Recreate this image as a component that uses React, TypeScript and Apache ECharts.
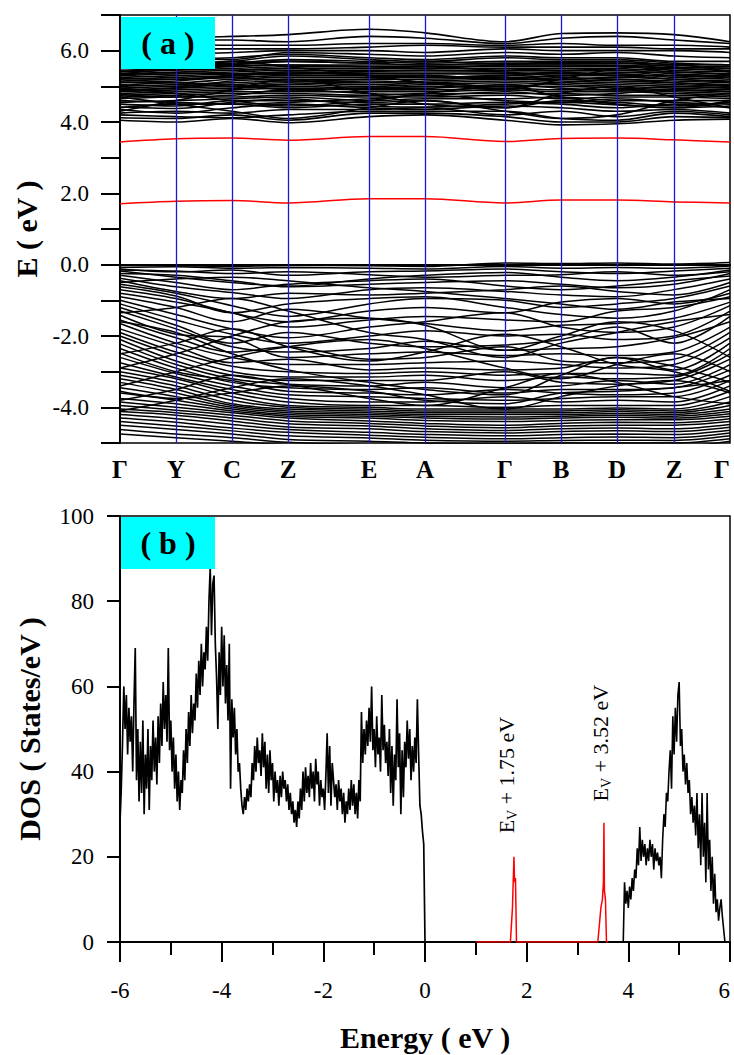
import React, { useEffect, useRef } from 'react';
import * as echarts from 'echarts';

// ---------- Panel (a): band structure ----------
const kLabels = ['Γ', 'Y', 'C', 'Z', 'E', 'A', 'Γ', 'B', 'D', 'Z', 'Γ'];
const kPos = [0, 56, 112, 168, 249, 305, 385, 441, 497, 554, 610];
const bandTicks = [-5, -4, -3, -2, -1, 0, 1, 2, 3, 4, 5, 6, 7];

const valenceBands = [
  [-0.02, -0.03, -0.05, -0.02, -0.03, -0.05, 0.05, 0.03, 0.05, 0.02, 0.06],
  [-0.08, -0.06, -0.1, -0.08, -0.1, -0.12, -0.05, -0.1, -0.08, -0.1, -0.04],
  [-0.12, -0.2, -0.15, -0.3, -0.2, -0.18, -0.12, -0.2, -0.25, -0.18, -0.1],
  [-0.18, -0.35, -0.5, -0.6, -0.4, -0.3, -0.22, -0.35, -0.45, -0.35, -0.15],
  [-0.25, -0.3, -0.45, -0.62, -0.55, -0.5, -0.45, -0.55, -0.65, -0.55, -0.25],
  [-0.3, -0.5, -0.7, -0.55, -0.45, -0.4, -0.6, -0.7, -0.6, -0.45, -0.32],
  [-0.38, -0.62, -0.78, -0.95, -0.7, -0.65, -0.75, -0.85, -0.9, -0.7, -0.4],
  [-0.45, -0.75, -0.95, -0.8, -0.85, -0.8, -0.7, -0.6, -0.75, -0.85, -0.5],
  [-0.55, -0.8, -1.15, -1.45, -1.1, -0.95, -1.0, -1.2, -1.1, -0.95, -0.6],
  [-0.62, -0.88, -1.35, -1.1, -0.95, -0.9, -1.2, -1.4, -1.5, -1.3, -0.7],
  [-0.7, -0.95, -1.35, -1.6, -1.3, -1.2, -1.35, -1.05, -0.95, -1.1, -0.8],
  [-0.8, -1.05, -1.35, -1.75, -1.55, -1.45, -1.55, -1.6, -1.3, -1.2, -0.9],
  [-0.9, -1.2, -1.6, -1.25, -1.5, -1.65, -1.85, -1.7, -1.65, -1.5, -1.05],
  [-1.0, -1.4, -1.8, -2.05, -1.75, -1.6, -1.35, -1.75, -1.9, -1.75, -1.15],
  [-1.1, -1.55, -1.95, -2.2, -2.0, -1.85, -2.0, -1.95, -2.1, -2.0, -1.3],
  [-1.2, -1.7, -2.2, -1.9, -2.2, -2.3, -2.25, -2.1, -1.75, -2.2, -1.45],
  [-1.3, -1.8, -2.3, -2.45, -2.35, -2.15, -2.4, -2.35, -2.3, -2.05, -1.6],
  [-1.42, -1.95, -2.05, -2.6, -2.5, -2.45, -2.55, -2.5, -2.55, -2.45, -1.75],
  [-1.55, -2.05, -2.45, -2.3, -2.65, -2.6, -2.3, -2.7, -2.75, -2.65, -1.9],
  [-1.65, -2.2, -2.6, -2.8, -2.8, -2.75, -2.7, -2.8, -2.9, -2.8, -2.05],
  [-1.8, -2.3, -2.75, -2.65, -2.95, -2.9, -2.95, -2.9, -2.6, -2.95, -2.2],
  [-1.9, -2.45, -2.85, -3.0, -3.05, -3.0, -3.1, -3.05, -3.05, -3.1, -2.35],
  [-2.0, -2.55, -3.0, -3.15, -3.15, -3.1, -3.25, -3.15, -3.2, -3.15, -2.5],
  [-2.1, -2.7, -3.1, -3.25, -3.25, -3.25, -3.0, -3.3, -3.35, -3.25, -2.65],
  [-2.22, -2.8, -3.2, -3.35, -3.4, -3.3, -3.45, -3.4, -3.25, -3.35, -2.8],
  [-2.35, -2.9, -3.3, -3.45, -3.5, -3.45, -3.6, -3.5, -3.5, -3.45, -2.95],
  [-2.48, -3.0, -3.25, -3.55, -3.6, -3.65, -3.5, -3.6, -3.65, -3.6, -3.1],
  [-2.6, -3.05, -3.4, -3.65, -3.7, -3.75, -3.8, -3.75, -3.7, -3.7, -3.25],
  [-2.75, -3.15, -3.5, -3.75, -3.85, -3.85, -3.7, -3.85, -3.8, -3.85, -3.4],
  [-2.9, -3.2, -3.6, -3.85, -3.95, -3.95, -4.0, -3.95, -3.95, -3.95, -3.55],
  [-3.0, -3.3, -3.7, -3.95, -4.0, -4.05, -4.05, -4.05, -4.02, -4.05, -3.7],
  [-3.1, -3.4, -3.8, -4.0, -4.05, -4.1, -4.1, -4.1, -4.07, -4.1, -3.85],
  [-3.2, -3.5, -3.9, -4.05, -4.1, -4.15, -4.15, -4.15, -4.12, -4.15, -3.95],
  [-3.3, -3.6, -3.95, -4.1, -4.15, -4.2, -4.2, -4.2, -4.17, -4.2, -4.05],
  [-3.45, -3.7, -4.0, -4.15, -4.2, -4.25, -4.27, -4.25, -4.22, -4.25, -4.12],
  [-3.6, -3.8, -4.05, -4.2, -4.25, -4.3, -4.33, -4.3, -4.28, -4.3, -4.18],
  [-3.75, -3.9, -4.1, -4.25, -4.3, -4.37, -4.4, -4.37, -4.35, -4.35, -4.25],
  [-3.85, -4.0, -4.15, -4.3, -4.38, -4.45, -4.5, -4.45, -4.42, -4.43, -4.32],
  [-3.95, -4.08, -4.22, -4.38, -4.45, -4.52, -4.57, -4.52, -4.5, -4.5, -4.4],
  [-4.05, -4.15, -4.3, -4.46, -4.52, -4.6, -4.65, -4.6, -4.58, -4.6, -4.48],
  [-4.12, -4.22, -4.38, -4.55, -4.6, -4.68, -4.72, -4.68, -4.66, -4.68, -4.56],
  [-4.2, -4.32, -4.48, -4.62, -4.7, -4.76, -4.8, -4.76, -4.75, -4.76, -4.64],
  [-4.3, -4.42, -4.58, -4.7, -4.78, -4.84, -4.88, -4.85, -4.83, -4.85, -4.72],
  [-4.4, -4.52, -4.66, -4.8, -4.86, -4.92, -4.95, -4.93, -4.92, -4.93, -4.8],
  [-4.5, -4.62, -4.75, -4.9, -4.95, -5.0, -5.02, -5.0, -5.0, -5.0, -4.88],
  [-4.62, -4.75, -4.85, -4.98, -5.05, -5.1, -5.1, -5.1, -5.1, -5.1, -4.95],
  [-4.75, -4.85, -4.95, -5.05, -5.1, -5.15, -5.15, -5.15, -5.15, -5.15, -5.05],
  [-2.9, -2.5, -2.0, -1.6, -1.5, -1.7, -2.4, -2.0, -1.6, -1.85, -2.6],
  [-3.4, -3.0, -2.6, -2.3, -2.1, -2.35, -2.9, -3.2, -2.8, -2.5, -3.0],
  [-1.6, -1.9, -2.5, -2.95, -3.3, -3.5, -3.65, -3.1, -2.6, -2.85, -3.3],
  [-3.8, -3.5, -3.1, -3.35, -3.75, -3.95, -3.45, -3.05, -3.3, -3.7, -3.9],
  [-2.5, -2.2, -1.8, -2.3, -2.7, -2.45, -1.95, -2.3, -2.8, -3.0, -3.55],
  [-4.1, -3.8, -3.45, -3.2, -3.4, -3.65, -4.05, -3.7, -3.4, -3.25, -3.6],
  [-1.35, -1.2, -0.95, -1.3, -1.9, -2.1, -2.6, -2.2, -1.9, -1.6, -1.4],
  [-0.5, -0.4, -0.35, -0.45, -0.65, -0.75, -0.95, -1.1, -1.25, -1.05, -0.95],
  [-0.15, -0.18, -0.25, -0.2, -0.28, -0.35, -0.3, -0.28, -0.2, -0.3, -0.2],
  [-3.55, -3.75, -3.6, -3.4, -3.55, -3.8, -3.9, -3.6, -3.55, -3.45, -3.25],
];

const conductionBands = [
  [4.05, 4.0, 4.1, 3.98, 4.15, 4.2, 4.05, 3.92, 3.95, 4.05, 4.08],
  [4.12, 4.1, 4.2, 4.05, 4.25, 4.25, 4.15, 4.0, 4.0, 4.15, 4.12],
  [4.2, 4.15, 4.12, 4.2, 4.3, 4.3, 4.3, 4.1, 4.05, 4.25, 4.15],
  [4.25, 4.3, 4.25, 4.35, 4.35, 4.4, 4.2, 4.3, 4.15, 4.3, 4.2],
  [4.35, 4.25, 4.4, 4.5, 4.4, 4.35, 4.45, 4.4, 4.3, 4.35, 4.25],
  [4.4, 4.5, 4.5, 4.4, 4.5, 4.5, 4.55, 4.5, 4.4, 4.5, 4.4],
  [4.5, 4.45, 4.6, 4.6, 4.55, 4.6, 4.4, 4.6, 4.55, 4.45, 4.55],
  [4.55, 4.6, 4.65, 4.7, 4.6, 4.65, 4.65, 4.7, 4.6, 4.6, 4.6],
  [4.65, 4.7, 4.7, 4.75, 4.7, 4.7, 4.75, 4.65, 4.7, 4.7, 4.65],
  [4.7, 4.75, 4.8, 4.8, 4.75, 4.8, 4.8, 4.8, 4.75, 4.75, 4.7],
  [4.75, 4.8, 4.85, 4.85, 4.85, 4.85, 4.9, 4.85, 4.85, 4.8, 4.75],
  [4.8, 4.85, 4.9, 4.95, 4.9, 4.9, 4.95, 4.9, 4.9, 4.85, 4.8],
  [4.85, 4.9, 4.95, 5.0, 4.95, 5.0, 5.0, 5.0, 4.95, 4.9, 4.85],
  [4.9, 4.95, 5.0, 5.05, 5.0, 5.05, 5.1, 5.05, 5.0, 4.95, 4.9],
  [4.95, 5.0, 5.05, 5.1, 5.05, 5.1, 5.15, 5.1, 5.05, 5.0, 4.95],
  [5.0, 5.05, 5.1, 5.15, 5.1, 5.15, 5.2, 5.15, 5.1, 5.05, 5.0],
  [5.05, 5.0, 5.15, 5.2, 5.2, 5.2, 5.25, 5.2, 5.15, 5.1, 5.05],
  [5.1, 5.1, 5.2, 5.25, 5.25, 5.25, 5.3, 5.25, 5.2, 5.15, 5.1],
  [5.15, 5.2, 5.25, 5.3, 5.3, 5.3, 5.2, 5.3, 5.3, 5.2, 5.15],
  [5.2, 5.25, 5.3, 5.35, 5.35, 5.35, 5.35, 5.35, 5.35, 5.25, 5.2],
  [5.25, 5.3, 5.35, 5.4, 5.4, 5.4, 5.4, 5.4, 5.4, 5.3, 5.25],
  [5.3, 5.35, 5.4, 5.45, 5.45, 5.45, 5.45, 5.45, 5.45, 5.35, 5.3],
  [5.35, 5.4, 5.45, 5.5, 5.5, 5.5, 5.5, 5.5, 5.5, 5.4, 5.35],
  [5.4, 5.45, 5.5, 5.55, 5.55, 5.55, 5.55, 5.55, 5.55, 5.45, 5.4],
  [5.45, 5.5, 5.55, 5.6, 5.6, 5.6, 5.6, 5.6, 5.6, 5.5, 5.45],
  [5.5, 5.55, 5.6, 5.7, 5.65, 5.6, 5.65, 5.65, 5.65, 5.55, 5.5],
  [5.55, 5.6, 5.65, 5.75, 5.7, 5.65, 5.7, 5.7, 5.7, 5.6, 5.55],
  [5.6, 5.65, 5.7, 5.85, 5.75, 5.7, 5.8, 5.75, 5.75, 5.65, 5.6],
  [5.7, 5.75, 5.8, 5.9, 5.8, 5.75, 5.85, 5.8, 5.8, 5.7, 5.7],
  [5.8, 5.8, 5.75, 5.95, 5.9, 5.85, 5.95, 5.9, 5.95, 5.85, 5.8],
  [5.95, 5.9, 5.95, 6.0, 6.0, 5.95, 6.05, 6.0, 6.0, 6.0, 5.95],
  [6.05, 6.05, 6.05, 6.05, 6.1, 6.15, 6.1, 6.1, 6.1, 6.05, 6.05],
  [6.2, 6.2, 6.15, 6.15, 6.2, 6.2, 6.15, 6.2, 6.15, 6.15, 6.1],
  [6.3, 6.3, 6.3, 6.25, 6.4, 6.35, 6.2, 6.35, 6.4, 6.3, 6.2],
  [6.37, 6.37, 6.4, 6.45, 6.6, 6.5, 6.25, 6.48, 6.5, 6.45, 6.25],
  [4.7, 4.5, 4.3, 4.1, 4.4, 4.6, 4.3, 4.1, 4.2, 4.6, 4.8],
  [4.3, 4.6, 4.9, 5.2, 4.8, 4.5, 4.4, 4.8, 5.0, 4.7, 4.4],
  [4.42, 4.38, 4.55, 4.65, 4.45, 4.42, 4.5, 4.55, 4.48, 4.4, 4.45],
  [4.6, 4.55, 4.5, 4.55, 4.65, 4.75, 4.6, 4.55, 4.65, 4.55, 4.5],
  [4.78, 4.7, 4.75, 4.9, 4.8, 4.75, 4.85, 4.75, 4.8, 4.9, 4.85],
  [4.88, 4.95, 5.05, 4.9, 4.95, 4.95, 5.05, 4.95, 4.9, 5.0, 4.95],
  [5.02, 5.1, 5.0, 5.05, 5.15, 5.1, 5.0, 5.1, 5.2, 5.1, 5.02],
  [5.12, 5.15, 5.25, 5.15, 5.2, 5.3, 5.2, 5.2, 5.25, 5.2, 5.12],
  [5.22, 5.2, 5.3, 5.4, 5.3, 5.25, 5.3, 5.4, 5.3, 5.3, 5.25],
  [5.32, 5.38, 5.35, 5.35, 5.42, 5.45, 5.4, 5.3, 5.38, 5.4, 5.32],
  [5.42, 5.48, 5.45, 5.5, 5.5, 5.55, 5.45, 5.5, 5.45, 5.5, 5.42],
  [5.52, 5.5, 5.58, 5.6, 5.55, 5.5, 5.6, 5.6, 5.58, 5.52, 5.55],
  [5.62, 5.58, 5.62, 5.7, 5.65, 5.7, 5.62, 5.68, 5.65, 5.62, 5.6],
  [4.95, 4.8, 4.6, 4.45, 4.6, 4.8, 5.0, 4.7, 4.5, 4.4, 4.6],
  [5.35, 5.5, 5.7, 5.55, 5.3, 5.1, 4.9, 5.2, 5.5, 5.6, 5.4],
];

const defectBands = [
  [1.71, 1.78, 1.8, 1.73, 1.85, 1.85, 1.73, 1.81, 1.81, 1.76, 1.73],
  [3.44, 3.53, 3.55, 3.49, 3.59, 3.59, 3.45, 3.54, 3.55, 3.5, 3.44],
];

// ---------- Panel (b): density of states ----------
const dosValenceStart = -6.0;
const dosConductionStart = 3.9;
const dosStep = 0.025;
const dosValence = [
  28, 36, 47, 60, 50, 58, 44, 55, 47, 53,
  40, 56, 69, 38, 50, 33, 47, 35, 52, 30,
  44, 36, 50, 31, 46, 38, 52, 40, 48, 37,
  53, 42, 56, 46, 61, 50, 58, 47, 69, 45,
  52, 40, 48, 36, 44, 33, 40, 31, 38, 35,
  45, 38, 50, 42, 54, 46, 58, 49, 56, 52,
  63, 55, 66, 58, 70, 60, 68, 64, 74, 66,
  80, 88, 72, 84, 86, 70, 62, 50, 68, 58,
  74, 60, 72, 56, 65, 52, 70, 36, 57, 48,
  55, 44, 50, 40, 42, 36, 32, 30, 34, 31,
  36, 33, 37, 34, 42, 38, 46, 40, 48, 42,
  45, 39, 49, 41, 47, 36, 44, 35, 45, 38,
  42, 33, 40, 35, 38, 32, 39, 34, 40, 36,
  38, 33, 37, 31, 35, 30, 33, 28, 31, 27,
  33, 29, 36, 31, 40, 33, 41, 35, 39, 34,
  42, 36, 40, 33, 43, 37, 40, 32, 38, 34,
  36, 31, 39, 49, 35, 46, 32, 42, 38, 34,
  37, 31, 38, 33, 36, 30, 35, 28, 33, 30,
  36, 31, 38, 32, 37, 30, 35, 29, 38, 33,
  54, 42, 50, 44, 52, 46, 55, 47, 60, 45,
  50, 41, 53, 44, 48, 40, 58, 45, 51, 42,
  47, 39, 50, 35, 46, 32, 44, 38, 57, 41,
  49, 30, 45, 34, 47, 41, 52, 43, 50, 38,
  46, 40, 48, 42, 57, 44, 32, 30, 26, 23,
  0,
];
const dosConduction = [
  0, 14, 9, 12, 8, 13, 10, 15, 12, 17,
  15, 22, 18, 27, 19, 24, 20, 23, 18, 22,
  19, 24, 20, 23, 17, 22, 19, 21, 18, 20,
  15, 24, 30, 27, 35, 33, 40, 45, 36, 53,
  44, 55, 47, 58, 61, 46, 50, 40, 44, 37,
  42, 35, 38, 30, 34, 28, 32, 25, 35, 22,
  30, 18, 35, 20, 28, 14, 35, 17, 24, 12,
  20, 9, 16, 7, 10, 5, 8, 10, 6, 3,
  0,
];
const defectEnergy = [1.0, 1.68, 1.72, 1.74, 1.75, 1.76, 1.77, 1.78, 1.8, 3.4, 3.46, 3.49, 3.51, 3.52, 3.53, 3.55, 3.57, 3.6];
const defectDos = [0, 0, 8, 16, 20, 15, 14, 15, 0, 0, 8, 10, 14, 28, 12, 10, 0, 0];
const defectLevels = ['1.75', '3.52'];
const defectLabelAt = [[1.61, 25.5], [3.46, 33]];

const SERIF = 'Times New Roman';

export default function App() {
  const ref = useRef<HTMLDivElement>(null);
  useEffect(() => {
    document.body.style.margin = '0';
    const chart = echarts.init(ref.current!, undefined, { renderer: 'svg' });
    const bandLine = (b: number[], color: string, width: number) => ({
      type: 'line',
      xAxisIndex: 0,
      yAxisIndex: 0,
      data: kPos.map((k, i) => [k, b[i]]),
      smooth: 0.35,
      symbol: 'none',
      silent: true,
      lineStyle: { color, width },
    });
    const series: any[] = [
      ...valenceBands.map((b) => bandLine(b, '#000', 1.5)),
      ...conductionBands.map((b) => bandLine(b, '#000', 1.6)),
      ...defectBands.map((b) => bandLine(b, '#ff0000', 1.5)),
      {
        type: 'line',
        xAxisIndex: 0,
        yAxisIndex: 0,
        data: [],
        silent: true,
        z: 5,
        markLine: {
          symbol: 'none',
          silent: true,
          label: { show: false },
          lineStyle: { color: '#1a1ad6', width: 1.3, type: 'solid' },
          data: kPos.slice(1, -1).map((k) => ({ xAxis: k })),
        },
      },
      {
        type: 'line',
        xAxisIndex: 1,
        yAxisIndex: 1,
        data: dosValence.map((v, i) => [dosValenceStart + i * dosStep, v]),
        symbol: 'none',
        silent: true,
        lineStyle: { color: '#000', width: 1.7 },
      },
      {
        type: 'line',
        xAxisIndex: 1,
        yAxisIndex: 1,
        data: dosConduction.map((v, i) => [dosConductionStart + i * dosStep, v]),
        symbol: 'none',
        silent: true,
        lineStyle: { color: '#000', width: 1.6 },
      },
      {
        type: 'line',
        xAxisIndex: 1,
        yAxisIndex: 1,
        data: defectEnergy.map((e, i) => [e, defectDos[i]]),
        symbol: 'none',
        silent: true,
        z: 4,
        lineStyle: { color: '#ff0000', width: 1.5 },
        markPoint: {
          symbol: 'circle',
          symbolSize: 0,
          silent: true,
          data: defectLevels.map((lv, i) => ({
            coord: defectLabelAt[i],
            value: lv,
            label: {
              show: true,
              rotate: 90,
              align: 'left',
              verticalAlign: 'middle',
              position: 'inside',
              formatter: `{n|E}{s|V}{n| + ${lv} eV}`,
              rich: {
                n: { fontSize: 22, fontFamily: SERIF, color: '#000', lineHeight: 26 },
                s: { fontSize: 14, fontFamily: SERIF, color: '#000', lineHeight: 14, verticalAlign: 'bottom' },
              },
            },
          })),
        },
      },
    ];

    const tickFont = { fontSize: 23, fontFamily: SERIF, color: '#000' };
    const titleFont = { fontSize: 30, fontWeight: 'bold', fontFamily: SERIF, color: '#000' };

    chart.setOption({
      animation: false,
      textStyle: { fontFamily: SERIF },
      grid: [
        { left: 120, top: 15, width: 610, height: 428, show: true, borderColor: '#000', borderWidth: 1.5, backgroundColor: 'transparent', outerBoundsMode: 'none' },
        { left: 120, top: 516, width: 610, height: 426, show: true, borderColor: '#000', borderWidth: 1.5, backgroundColor: 'transparent', outerBoundsMode: 'none' },
      ],
      xAxis: [
        {
          type: 'value',
          gridIndex: 0,
          min: 0,
          max: 610,
          axisLine: { show: true, lineStyle: { color: '#000', width: 2 } },
          axisTick: { show: false },
          splitLine: { show: false },
          axisLabel: {
            customValues: kPos,
            showMinLabel: true,
            showMaxLabel: true,
            alignMaxLabel: 'right',
            formatter: (v: number) => {
              const i = kPos.indexOf(v);
              return i >= 0 ? kLabels[i] : '';
            },
            fontSize: 25,
            fontWeight: 'bold',
            fontFamily: SERIF,
            color: '#000',
            margin: 14,
          },
        },
        {
          type: 'value',
          gridIndex: 1,
          min: -6,
          max: 6,
          interval: 2,
          name: 'Energy ( eV )',
          nameLocation: 'middle',
          nameGap: 80,
          nameTextStyle: titleFont,
          axisLine: { show: true, onZero: false, lineStyle: { color: '#000', width: 2 } },
          axisTick: { show: true, length: 20, lineStyle: { color: '#000', width: 2 } },
          minorTick: { show: true, splitNumber: 2, length: 13, lineStyle: { color: '#000', width: 2 } },
          splitLine: { show: false },
          minorSplitLine: { show: false },
          axisLabel: { ...tickFont, margin: 37, showMinLabel: true, showMaxLabel: true, alignMaxLabel: 'right' },
        },
      ],
      yAxis: [
        {
          type: 'value',
          gridIndex: 0,
          min: -5,
          max: 7,
          interval: 1,
          name: 'E ( eV )',
          nameLocation: 'middle',
          nameRotate: 90,
          nameGap: 76,
          nameTextStyle: titleFont,
          axisLine: { show: true, onZero: false, lineStyle: { color: '#000', width: 2 } },
          axisTick: { show: true, length: 19, lineStyle: { color: '#000', width: 2 } },
          splitLine: { show: false },
          axisLabel: {
            ...tickFont,
            formatter: (v: number) => (bandTicks.includes(v) && v % 2 === 0 ? v.toFixed(1) : ''),
            margin: 31,
          },
        },
        {
          type: 'value',
          gridIndex: 1,
          min: 0,
          max: 100,
          interval: 20,
          name: 'DOS ( States/eV )',
          nameLocation: 'middle',
          nameRotate: 90,
          nameGap: 76,
          nameTextStyle: titleFont,
          axisLine: { show: true, onZero: false, lineStyle: { color: '#000', width: 2 } },
          axisTick: { show: true, length: 13, lineStyle: { color: '#000', width: 2 } },
          splitLine: { show: false },
          axisLabel: { ...tickFont, margin: 26 },
        },
      ],
      graphic: [
        { type: 'rect', shape: { x: 121, y: 17, width: 94, height: 52 }, style: { fill: '#00ffff' }, z: 100 },
        { type: 'text', x: 168, y: 43, style: { text: '( a )', fontFamily: SERIF, fontSize: 32, fontWeight: 'bold', fill: '#000', align: 'center', verticalAlign: 'middle' }, z: 101 },
        { type: 'rect', shape: { x: 121, y: 517, width: 94, height: 52 }, style: { fill: '#00ffff' }, z: 100 },
        { type: 'text', x: 168, y: 543, style: { text: '( b )', fontFamily: SERIF, fontSize: 32, fontWeight: 'bold', fill: '#000', align: 'center', verticalAlign: 'middle' }, z: 101 },
      ],
      series,
    });
    return () => chart.dispose();
  }, []);
  return <div ref={ref} style={{ width: 734, height: 1055, background: '#fff', fontFamily: SERIF }} />;
}
